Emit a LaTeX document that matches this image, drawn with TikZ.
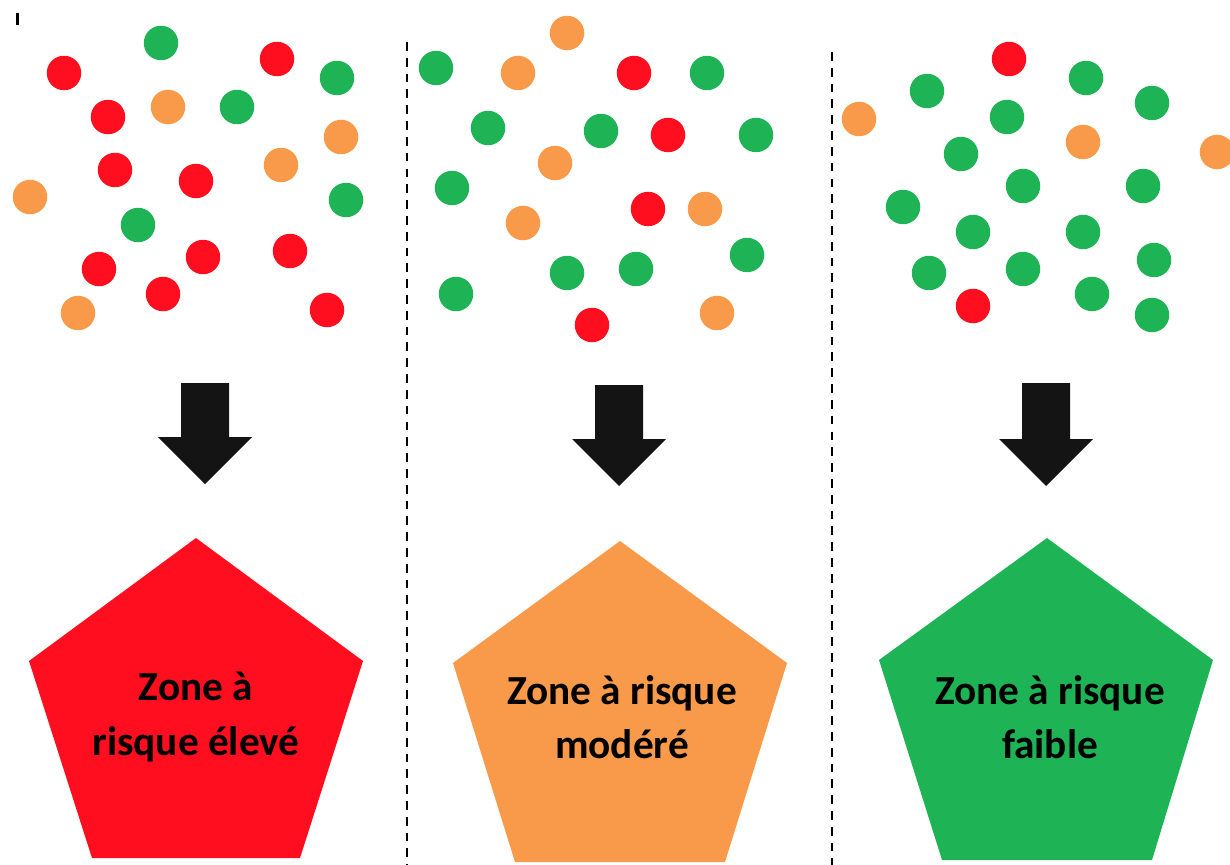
\documentclass[tikz,border=0pt]{standalone}
\usepackage{fontspec}
\setmainfont{Carlito}
\definecolor{rred}{HTML}{FF0E1F}
\definecolor{rorange}{HTML}{F89A4A}
\definecolor{rgreen}{HTML}{1EB455}
\begin{document}
\begin{tikzpicture}[x=0.02cm,y=-0.02cm,
  dot/.style={circle,minimum size=0.69cm,inner sep=0pt,draw=none},
  R/.style={dot,fill=rred},
  O/.style={dot,fill=rorange},
  G/.style={dot,fill=rgreen},
  sep/.style={black,line width=1.1pt,dash pattern=on 5pt off 4pt},
  blockarrow/.style={fill=black!92,draw=none},
  penta/.style={draw=none},
  lbl/.style={align=center,font=\fontsize{23.5}{31}\selectfont\bfseries,text=black,inner sep=0pt}]
\useasboundingbox (0,0) rectangle (1230,865);
% tick
\fill[black] (15.5,13) rectangle (18.5,25);
% separators
\coordinate (s1t) at (407,42); \coordinate (s1b) at (407,865);
\coordinate (s2t) at (832,52); \coordinate (s2b) at (832,865);
\draw[sep] (s1t) -- (s1b);
\draw[sep] (s2t) -- (s2b);
% panel 1 dots
\node[G] (a1) at (161,43) {};
\node[R] (a2) at (64,73) {};
\node[R] (a3) at (277,59) {};
\node[G] (a4) at (337,78) {};
\node[R] (a5) at (108,117) {};
\node[O] (a6) at (168,107) {};
\node[G] (a7) at (237,107) {};
\node[O] (a8) at (341,137) {};
\node[R] (a9) at (115,170) {};
\node[R] (a10) at (196,181) {};
\node[O] (a11) at (281,165) {};
\node[O] (a12) at (30,197) {};
\node[G] (a13) at (346,200) {};
\node[G] (a14) at (138,225) {};
\node[R] (a15) at (99,269) {};
\node[R] (a16) at (203,257) {};
\node[R] (a17) at (290,251) {};
\node[O] (a18) at (78,313) {};
\node[R] (a19) at (163,294) {};
\node[R] (a20) at (327,310) {};
% panel 2 dots
\node[O] (b1) at (567,33) {};
\node[G] (b2) at (436,68) {};
\node[O] (b3) at (518,73) {};
\node[R] (b4) at (634,73) {};
\node[G] (b5) at (707,73) {};
\node[G] (b6) at (488,128) {};
\node[G] (b7) at (601,131) {};
\node[R] (b8) at (668,135) {};
\node[G] (b9) at (756,135) {};
\node[O] (b10) at (555,163) {};
\node[G] (b11) at (452,188) {};
\node[R] (b12) at (648,209) {};
\node[O] (b13) at (705,209) {};
\node[O] (b14) at (523,223) {};
\node[G] (b15) at (747,255) {};
\node[G] (b16) at (567,273) {};
\node[G] (b17) at (636,269) {};
\node[G] (b18) at (456,294) {};
\node[R] (b19) at (592,325) {};
\node[O] (b20) at (717,313) {};
% panel 3 dots
\node[R] (c1) at (1009,59) {};
\node[G] (c2) at (1086,78) {};
\node[G] (c3) at (927,91) {};
\node[G] (c4) at (1152,103) {};
\node[O] (c5) at (859,119) {};
\node[G] (c6) at (1007,117) {};
\node[O] (c7) at (1083,142) {};
\node[O] (c8) at (1217,152) {};
\node[G] (c9) at (961,154) {};
\node[G] (c10) at (1023,186) {};
\node[G] (c11) at (1143,186) {};
\node[G] (c12) at (903,207) {};
\node[G] (c13) at (973,232) {};
\node[G] (c14) at (1083,232) {};
\node[G] (c15) at (1154,260) {};
\node[G] (c16) at (929,273) {};
\node[G] (c17) at (1023,269) {};
\node[R] (c18) at (973,306) {};
\node[G] (c19) at (1092,294) {};
\node[G] (c20) at (1152,315) {};
% block arrows
\foreach \cx/\ty/\tip in {205/383/484, 619/385/486, 1046/383/486}{
  \fill[blockarrow] (\cx-24,\ty) -- (\cx+24,\ty) -- (\cx+24,\tip-47) -- (\cx+47,\tip-47)
    -- (\cx,\tip) -- (\cx-47,\tip-47) -- (\cx-24,\tip-47) -- cycle;
}
% pentagons
\fill[rred,penta] (196,538) -- (363,661) -- (300,858) -- (92,858) -- (29,661) -- cycle;
\fill[rorange,penta] (620,541) -- (787,663) -- (725,862) -- (515,862) -- (453,663) -- cycle;
\fill[rgreen,penta] (1047,538) -- (1213,660) -- (1152,860) -- (942,860) -- (879,660) -- cycle;
% labels
\node[lbl] (t1) at (196,717) {Zone à\\risque élevé};
\node[lbl] (t2) at (622,717) {Zone à risque\\modéré};
\node[lbl] (t3) at (1050,717) {Zone à risque\\faible};
\end{tikzpicture}
\end{document}
